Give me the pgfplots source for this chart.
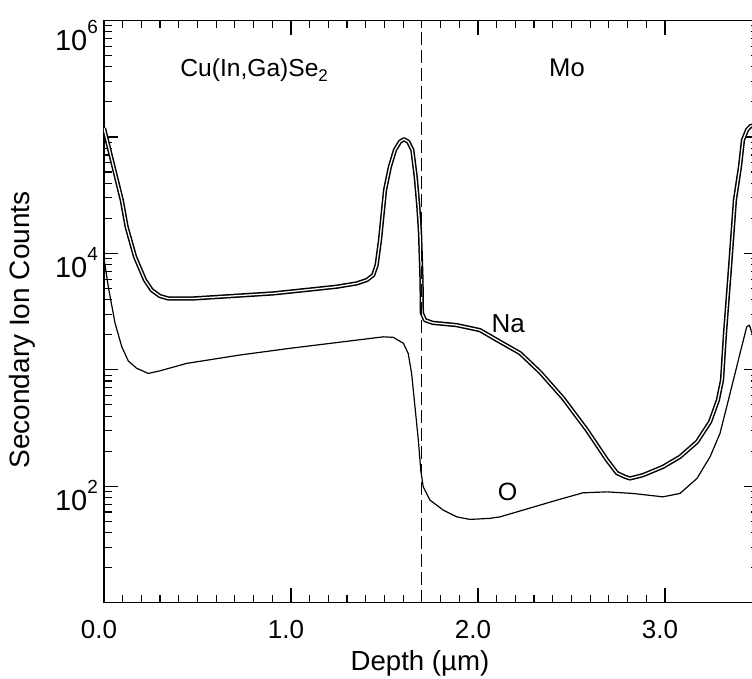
\documentclass[border=0pt]{standalone}
\usepackage{fontspec}
\setmainfont{Liberation Sans}
\usepackage{pgfplots}
\pgfplotsset{compat=1.18}
\usetikzlibrary{calc}
% tick label of the form 10^n, in text font
\newcommand{\tl}[1]{10\raisebox{8.6pt}{\fontsize{9.5}{9.5}\selectfont #1}}
\begin{document}
\begin{tikzpicture}
\begin{axis}[
    scale only axis,
    width=327.25pt, height=291.1pt,
    xmin=0, xmax=3.5,
    ymin=10, ymax=1e6,
    ymode=log,
    axis line style={line width=0.8pt},
    every tick/.style={black, line width=0.6pt},
    major tick length=7.25pt,
    minor tick length=3.85pt,
    tick align=inside,
    xtick={0,1,2,3},
    xticklabels={0.0,1.0,2.0,3.0},
    minor x tick num=9,
    ytick={10,100,1000,10000,100000,1000000},
    yticklabels={,\tl{2},,\tl{4},,\raisebox{-3pt}{\tl{6}}},
    minor ytick={20,30,40,50,60,70,80,90,200,300,400,500,600,700,800,900,
        2000,3000,4000,5000,6000,7000,8000,9000,
        20000,30000,40000,50000,60000,70000,80000,90000,
        200000,300000,400000,500000,600000,700000,800000,900000},
    xticklabel style={font=\fontsize{13}{13}\selectfont, anchor=north,
        inner sep=0pt, yshift=-8.5pt, xshift=-2.5pt},
    yticklabel style={font=\fontsize{14.5}{14.5}\selectfont, anchor=base east,
        inner sep=0pt, xshift=-2.85pt, yshift=-12pt},
    xlabel={Depth (µm)},
    xlabel style={font=\fontsize{13.8}{13.8}\selectfont,
        at={(axis description cs:0.4828,-0.1173)}, anchor=base, inner sep=0pt},
    ylabel={Secondary Ion Counts},
    ylabel style={font=\fontsize{14}{14}\selectfont,
        at={(axis description cs:-0.1253,0.4686)}, anchor=center, inner sep=0pt},
]

% Na (outlined line)
\addplot[black, line width=0.75pt, double=white, double distance=0.65pt, line join=round]
    coordinates {
        (0,1.19e5) (0.095,2.87e4) (0.121,1.69e4) (0.166,9.35e3) (0.219,5.90e3)
        (0.255,4.84e3) (0.299,4.30e3) (0.344,4.10e3) (0.478,4.10e3) (0.905,4.53e3)
        (1.244,5.17e3) (1.351,5.52e3) (1.405,5.90e3) (1.440,6.51e3) (1.458,7.94e3)
        (1.476,1.30e4) (1.503,3.50e4) (1.529,5.55e4) (1.556,7.72e4) (1.583,9.10e4)
        (1.604,9.54e4) (1.627,9.10e4) (1.649,7.72e4) (1.667,4.55e4) (1.681,2.51e4)
        (1.690,1.49e4) (1.698,5.90e3) (1.700,3.07e3) (1.717,2.67e3) (1.759,2.53e3)
        (1.886,2.42e3) (2.011,2.19e3) (2.102,1.80e3) (2.225,1.39e3) (2.332,955)
        (2.455,571) (2.583,303) (2.690,168) (2.743,130) (2.786,120.5)
        (2.813,116.7) (2.882,124.5) (2.989,146.8) (3.080,179) (3.171,240)
        (3.241,357) (3.283,549) (3.305,816) (3.321,2070) (3.348,7670)
        (3.374,2.87e4) (3.401,5.55e4) (3.417,9.40e4) (3.439,1.15e5) (3.458,1.24e5)
        (3.49,1.27e5)
    };

% O
\addplot[black, line width=0.6pt, line join=round]
    coordinates {
        (0,9.12e3) (0.023,5.17e3) (0.059,2.52e3) (0.095,1.58e3) (0.130,1.19e3)
        (0.175,1.03e3) (0.237,931) (0.299,980) (0.442,1135) (0.727,1340)
        (0.995,1530) (1.494,1920) (1.547,1900) (1.601,1690) (1.627,1380)
        (1.645,931) (1.663,481) (1.681,249) (1.694,137) (1.707,98.9)
        (1.743,76.0) (1.814,62.4) (1.886,54.6) (1.957,51.9) (2.064,53.0)
        (2.118,54.6) (2.241,62.4) (2.422,76.0) (2.561,87.8) (2.690,89.5)
        (2.829,86.7) (2.989,81.1) (3.080,86.7) (3.171,116.7) (3.241,179)
        (3.294,284) (3.348,627) (3.401,1380) (3.437,2340) (3.451,2420)
        (3.465,2070) (3.497,1750)
    };

% interface
\addplot[black, line width=0.55pt, dash pattern=on 6.5pt off 2.5pt]
    coordinates {(1.7,10) (1.7,1e6)};

\node[anchor=base, font=\fontsize{12.3}{12.3}\selectfont] at (axis cs:0.803,3.29e5)
    {Cu(In,Ga)Se\raisebox{-0.35ex}{\fontsize{8.5}{8.5}\selectfont 2}};
\node[anchor=base, font=\fontsize{12.8}{12.8}\selectfont] at (axis cs:2.476,3.29e5) {Mo};
\node[anchor=base, font=\fontsize{13}{13}\selectfont] at (axis cs:2.162,2109) {Na};
\node[anchor=base, font=\fontsize{12.5}{12.5}\selectfont] at (axis cs:2.158,76) {O};

\end{axis}
\pgfresetboundingbox
\path ($(current axis.south west)+(-52pt,-38.15pt)$) rectangle ($(current axis.south west)+(324pt,301.35pt)$);
\end{tikzpicture}
\end{document}
